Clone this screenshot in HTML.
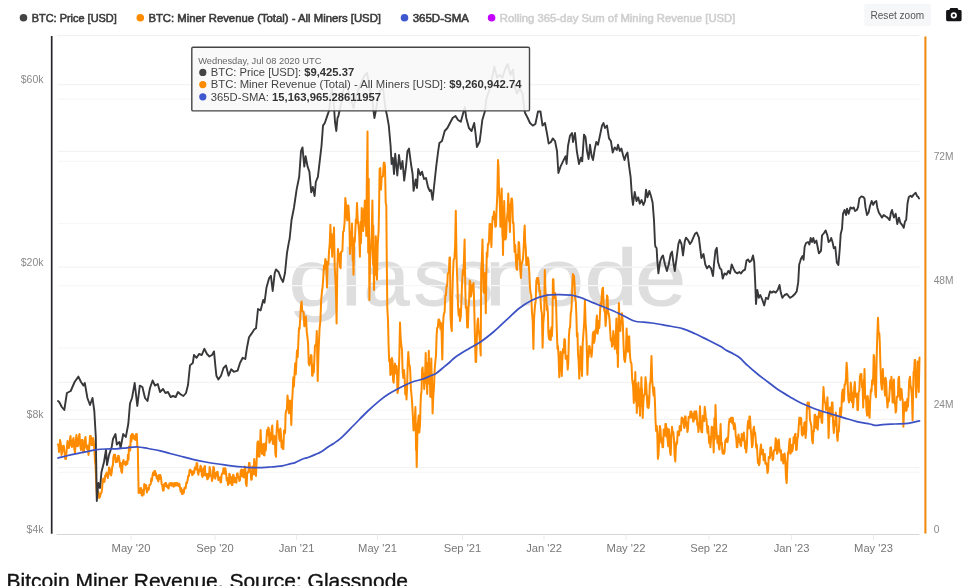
<!DOCTYPE html>
<html><head><meta charset="utf-8"><title>Bitcoin Miner Revenue</title>
<style>
html,body{margin:0;padding:0;background:#fff;}
body{width:970px;height:586px;overflow:hidden;position:relative;font-family:"Liberation Sans",sans-serif;}
</style></head><body>
<svg width="970" height="586" viewBox="0 0 970 586" style="position:absolute;left:0;top:0;will-change:transform">
<rect x="0" y="0" width="970" height="586" fill="#ffffff"/>
<defs><clipPath id="wmclip"><rect x="280" y="246.5" width="420" height="90"/></clipPath></defs>
<g id="wm" clip-path="url(#wmclip)" font-family="Liberation Sans, sans-serif" font-size="79.5" fill="#dedede" stroke="#dedede" stroke-width="1.0">
<text id="wm0" transform="translate(288.47 305.1) scale(1.240 1)" x="0" y="0">g</text>
<text id="wm1" transform="translate(340.97 305.1) scale(1.175 1)" x="0" y="0">l</text>
<text id="wm2" transform="translate(363.52 305.1) scale(1.039 1)" x="0" y="0">a</text>
<text id="wm3" transform="translate(413.85 305.1) scale(1.006 1)" x="0" y="0">s</text>
<text id="wm4" transform="translate(453.35 305.1) scale(1.006 1)" x="0" y="0">s</text>
<text id="wm5" transform="translate(485.15 305.1) scale(1.123 1)" x="0" y="0">n</text>
<text id="wm6" transform="translate(533.28 305.1) scale(1.142 1)" x="0" y="0">o</text>
<text id="wm7" transform="translate(584.57 305.1) scale(1.206 1)" x="0" y="0">d</text>
<text id="wm8" transform="translate(635.15 305.1) scale(1.150 1)" x="0" y="0">e</text>
</g>
<g stroke-width="1.2">
<line x1="57" x2="919.5" y1="35.6" y2="35.6" stroke="#f1f1f1"/>
<line x1="58" x2="919.5" y1="472.3" y2="472.3" stroke="#f7f7f7"/>
<line x1="58" x2="919.5" y1="410.1" y2="410.1" stroke="#f7f7f7"/>
<line x1="58" x2="919.5" y1="347.9" y2="347.9" stroke="#f7f7f7"/>
<line x1="58" x2="919.5" y1="285.7" y2="285.7" stroke="#f7f7f7"/>
<line x1="58" x2="919.5" y1="223.5" y2="223.5" stroke="#f7f7f7"/>
<line x1="58" x2="919.5" y1="161.3" y2="161.3" stroke="#f7f7f7"/>
<line x1="58" x2="919.5" y1="99.1" y2="99.1" stroke="#f7f7f7"/>
<line x1="58" x2="919.5" y1="467.6" y2="467.6" stroke="#f3f3f3"/>
<line x1="58" x2="919.5" y1="419.4" y2="419.4" stroke="#f3f3f3"/>
<line x1="58" x2="919.5" y1="382.3" y2="382.3" stroke="#f3f3f3"/>
<line x1="58" x2="919.5" y1="267.2" y2="267.2" stroke="#f3f3f3"/>
<line x1="58" x2="919.5" y1="151.4" y2="151.4" stroke="#f3f3f3"/>
<line x1="58" x2="919.5" y1="84.6" y2="84.6" stroke="#f3f3f3"/>
</g>
<line x1="56.5" x2="919.5" y1="534.5" y2="534.5" stroke="#d6d6d6" stroke-width="1"/>
<g stroke="#ebebeb" stroke-width="1">
<line x1="131" x2="131" y1="534.5" y2="540" />
<line x1="215" x2="215" y1="534.5" y2="540" />
<line x1="296.5" x2="296.5" y1="534.5" y2="540" />
<line x1="377.5" x2="377.5" y1="534.5" y2="540" />
<line x1="462.5" x2="462.5" y1="534.5" y2="540" />
<line x1="544" x2="544" y1="534.5" y2="540" />
<line x1="626" x2="626" y1="534.5" y2="540" />
<line x1="709" x2="709" y1="534.5" y2="540" />
<line x1="791.5" x2="791.5" y1="534.5" y2="540" />
<line x1="873.5" x2="873.5" y1="534.5" y2="540" />
</g>
<line x1="51.7" x2="51.7" y1="36.1" y2="533.7" stroke="#26262b" stroke-width="1.7"/>
<line x1="925.4" x2="925.4" y1="36.6" y2="533.5" stroke="#f08c12" stroke-width="2.1"/>
<path id="s-orange" d="M58.0 444.5 L58.5 445.6 L59.0 452.0 L59.5 447.8 L60.0 440.0 L60.8 443.8 L61.5 455.0 L62.2 452.1 L63.0 446.0 L63.8 445.7 L64.5 452.0 L65.2 458.9 L66.0 459.0 L66.8 448.3 L67.5 441.0 L68.2 447.7 L69.0 448.0 L69.8 440.0 L70.5 436.0 L71.2 445.2 L72.0 447.0 L72.8 440.2 L73.5 438.0 L74.2 447.9 L75.0 453.0 L75.8 440.1 L76.5 435.0 L77.2 446.3 L78.0 446.0 L78.8 437.4 L79.5 434.0 L80.2 445.0 L81.0 450.0 L81.8 440.1 L82.5 440.0 L83.2 452.4 L84.0 452.0 L84.8 439.9 L85.5 437.0 L86.2 446.8 L87.0 449.0 L87.8 445.5 L88.5 455.0 L89.2 447.7 L90.0 436.0 L90.8 436.0 L91.5 445.0 L92.2 445.1 L93.0 438.0 L93.8 442.1 L94.5 452.0 L95.0 461.2 L95.5 465.0 L96.3 485.0 L97.0 498.0 L97.8 491.3 L98.5 492.0 L99.2 498.0 L100.0 497.0 L100.7 493.6 L101.4 493.0 L102.1 488.8 L102.7 480.0 L103.3 478.5 L104.0 482.0 L104.6 481.3 L105.2 475.3 L105.9 476.0 L106.5 472.6 L107.2 474.1 L107.8 478.0 L108.4 474.5 L109.0 467.5 L109.7 468.0 L110.4 474.0 L111.1 475.4 L111.7 472.6 L112.3 466.3 L112.8 466.2 L113.4 457.0 L114.0 454.7 L114.6 458.2 L115.1 454.7 L115.7 462.2 L116.2 458.6 L116.8 462.0 L117.4 461.5 L118.0 456.0 L118.7 455.8 L119.4 460.0 L120.1 466.8 L120.7 463.0 L121.3 471.5 L122.0 472.6 L122.8 462.3 L123.5 460.0 L124.0 463.3 L124.5 464.0 L125.1 461.9 L125.7 465.3 L126.2 461.4 L126.8 462.0 L127.4 463.9 L127.9 454.8 L128.5 459.8 L129.0 446.4 L129.6 449.6 L130.2 450.5 L130.8 435.6 L131.4 441.4 L132.0 434.0 L132.7 434.0 L133.3 438.5 L134.0 435.8 L134.7 439.0 L135.4 440.0 L136.1 434.0 L136.8 434.0 L137.3 446.2 L137.8 447.0 L138.6 493.0 L139.2 489.8 L139.8 492.8 L140.4 488.2 L141.0 488.0 L141.7 495.2 L142.4 495.7 L143.1 489.8 L143.7 494.6 L144.3 484.0 L145.0 485.0 L145.6 488.5 L146.2 485.3 L146.9 492.4 L147.5 490.5 L148.1 488.2 L148.8 489.6 L149.4 485.1 L150.0 485.0 L150.7 484.1 L151.3 478.6 L151.9 481.0 L152.6 475.0 L153.2 472.4 L153.8 475.0 L154.4 471.0 L155.0 471.0 L155.6 475.6 L156.1 473.5 L156.7 478.3 L157.2 476.1 L157.8 480.0 L158.4 481.5 L159.1 474.9 L159.7 479.0 L160.3 475.0 L161.0 477.5 L161.7 484.4 L162.3 485.1 L163.0 490.5 L163.6 490.5 L164.2 484.1 L164.8 486.0 L165.4 483.0 L166.1 483.1 L166.7 486.8 L167.3 485.5 L168.0 488.0 L168.7 488.5 L169.3 483.5 L169.9 485.6 L170.6 483.0 L171.2 483.0 L171.8 485.8 L172.4 483.3 L173.0 485.4 L173.7 486.7 L174.3 483.0 L175.0 485.8 L175.7 483.0 L176.3 483.0 L176.8 485.5 L177.4 483.0 L178.0 484.0 L178.7 486.1 L179.3 483.8 L180.0 487.5 L180.7 491.5 L181.3 488.2 L181.9 494.0 L182.6 494.0 L183.2 490.3 L183.8 492.8 L184.4 487.8 L185.0 487.5 L185.7 488.2 L186.3 482.4 L187.0 483.0 L187.7 479.8 L188.3 475.7 L188.9 476.2 L189.6 470.2 L190.2 469.6 L190.8 472.3 L191.5 470.9 L192.2 475.1 L192.8 474.7 L193.5 471.2 L194.1 473.2 L194.8 467.6 L195.4 467.0 L196.0 469.5 L196.6 463.0 L197.2 463.3 L197.8 472.8 L198.4 474.7 L199.1 469.7 L199.8 471.1 L200.5 465.8 L201.2 466.8 L201.8 475.2 L202.5 477.0 L203.1 469.2 L203.7 475.3 L204.3 467.0 L204.9 466.1 L205.4 475.6 L206.0 474.7 L206.7 474.0 L207.3 479.3 L208.0 478.6 L208.6 473.4 L209.1 476.8 L209.6 467.0 L210.2 469.6 L210.8 475.4 L211.4 475.6 L212.0 481.0 L212.7 478.1 L213.3 467.0 L214.0 467.6 L214.6 476.7 L215.3 478.6 L215.9 473.0 L216.4 475.8 L217.0 472.0 L217.7 471.8 L218.3 480.0 L219.0 478.6 L219.8 477.2 L220.5 482.4 L221.1 482.3 L221.6 474.6 L222.2 473.4 L222.8 473.7 L223.4 468.5 L224.0 468.3 L224.7 473.7 L225.3 468.3 L226.0 472.0 L226.7 480.5 L227.3 478.0 L228.0 485.0 L228.7 483.8 L229.3 473.8 L230.0 474.7 L230.6 483.0 L231.1 477.1 L231.7 485.0 L232.4 485.0 L233.1 474.7 L233.8 476.0 L234.5 482.2 L235.1 478.0 L235.8 482.4 L236.4 482.7 L237.0 473.7 L237.6 473.4 L238.2 477.5 L238.8 476.9 L239.4 481.0 L240.1 479.7 L240.7 471.0 L241.4 469.6 L242.1 476.1 L242.8 469.9 L243.5 477.3 L244.1 477.3 L244.7 466.6 L245.3 468.3 L245.9 483.4 L246.6 486.0 L247.2 472.9 L247.8 472.0 L248.4 472.5 L249.0 463.1 L249.6 463.0 L250.1 471.5 L250.7 471.4 L251.2 479.8 L251.8 479.4 L252.4 466.5 L253.0 468.3 L253.6 474.2 L254.2 458.9 L254.8 464.5 L255.4 474.3 L256.0 476.0 L256.8 456.8 L257.4 442.7 L258.0 441.4 L258.7 456.4 L259.4 456.8 L259.9 449.3 L260.6 430.0 L261.3 447.3 L262.0 454.0 L262.6 446.7 L263.2 444.0 L263.9 455.1 L264.5 455.5 L265.2 443.4 L265.8 450.5 L266.5 439.0 L267.1 429.9 L267.7 435.3 L268.3 427.4 L268.9 429.1 L269.4 442.7 L270.0 441.4 L270.6 433.0 L271.1 439.5 L271.7 428.6 L272.3 425.4 L272.8 443.8 L273.4 444.0 L274.0 435.7 L274.7 436.3 L275.4 454.0 L276.0 456.8 L276.6 432.2 L277.3 421.0 L278.0 430.5 L278.6 429.7 L279.3 439.0 L279.9 441.1 L280.4 428.5 L281.0 435.0 L281.6 447.4 L282.3 440.7 L282.9 449.0 L283.4 449.0 L284.0 430.6 L284.5 433.8 L285.1 432.5 L285.6 413.8 L286.2 410.7 L286.9 408.8 L287.5 395.4 L288.1 401.1 L288.8 413.3 L289.4 409.5 L290.0 400.5 L290.6 407.4 L291.3 425.0 L292.0 402.0 L292.6 393.0 L293.3 377.5 L293.9 386.5 L294.6 373.0 L295.2 363.3 L295.8 374.2 L296.4 362.0 L297.0 350.6 L297.7 357.0 L298.3 343.0 L299.0 328.1 L299.6 328.7 L300.3 316.8 L301.0 305.1 L301.6 301.4 L302.2 310.8 L302.9 311.7 L303.6 312.0 L304.3 326.3 L305.0 324.5 L305.5 316.6 L306.0 316.8 L306.8 332.1 L307.5 337.3 L308.1 343.9 L308.7 362.7 L309.3 365.4 L309.9 357.7 L310.4 363.2 L311.0 355.0 L311.5 355.5 L312.1 375.7 L312.6 375.7 L313.2 364.5 L313.8 372.4 L314.4 358.0 L315.0 345.6 L315.7 345.0 L316.2 344.1 L316.8 331.0 L317.7 381.0 L318.4 355.8 L318.8 346.0 L319.6 328.0 L320.3 322.0 L321.2 300.0 L322.0 291.0 L322.6 286.8 L323.3 277.0 L324.0 265.5 L324.6 268.9 L325.3 259.0 L325.8 260.7 L326.3 267.0 L327.0 287.5 L327.7 261.7 L328.4 264.4 L329.0 251.7 L329.7 244.2 L330.4 224.8 L331.1 247.8 L331.5 233.8 L332.2 256.8 L332.9 235.6 L333.3 248.6 L334.0 227.4 L334.7 267.0 L335.6 282.4 L336.1 299.1 L336.6 323.4 L337.3 269.8 L338.0 249.0 L338.7 260.7 L339.3 253.7 L340.0 267.0 L340.6 268.1 L341.1 252.0 L341.7 251.7 L342.4 250.8 L343.1 231.7 L343.8 231.0 L344.6 222.1 L345.3 198.0 L346.1 204.8 L346.8 218.4 L347.3 220.4 L347.9 205.6 L348.4 205.6 L349.3 219.2 L350.0 254.0 L350.7 232.0 L351.3 245.5 L352.0 223.5 L352.7 260.4 L352.8 237.8 L353.5 274.7 L354.2 243.2 L354.8 241.6 L355.3 231.0 L355.8 219.5 L356.3 223.2 L357.0 203.0 L357.7 219.6 L358.5 226.0 L359.2 234.6 L359.9 256.8 L360.6 221.7 L361.0 243.1 L361.7 208.0 L362.4 224.6 L362.5 214.4 L363.2 231.0 L363.9 209.0 L364.1 222.5 L364.8 200.5 L365.5 226.1 L365.6 210.4 L366.3 236.0 L367.0 160.8 L366.8 206.7 L367.5 131.5 L368.2 252.8 L368.7 178.7 L369.4 300.0 L370.1 261.6 L371.0 246.6 L371.7 233.7 L372.4 200.5 L373.1 264.9 L373.3 225.6 L374.0 290.0 L374.7 251.3 L375.1 275.0 L375.8 236.3 L376.5 267.6 L376.3 248.5 L377.0 279.8 L377.7 244.7 L378.6 231.0 L379.1 205.9 L379.6 169.0 L380.3 168.0 L381.0 189.6 L381.6 178.0 L382.3 176.8 L383.0 176.2 L383.7 162.7 L384.4 162.7 L385.0 166.6 L385.7 202.4 L386.3 205.6 L386.8 262.3 L387.3 308.0 L388.0 320.2 L388.6 345.6 L389.2 361.3 L389.8 359.3 L390.4 375.0 L391.1 373.6 L391.9 358.0 L392.5 360.7 L393.1 380.5 L393.7 382.7 L394.4 367.4 L395.0 363.5 L395.8 373.4 L396.5 366.0 L397.0 372.4 L397.5 393.0 L398.1 390.2 L398.8 371.0 L399.3 357.4 L400.0 322.6 L400.7 339.2 L401.4 345.6 L402.0 349.7 L402.6 371.0 L403.3 378.0 L404.0 370.1 L404.7 379.0 L405.3 394.4 L405.9 384.6 L406.5 399.4 L407.1 387.2 L407.7 364.3 L408.3 352.0 L409.1 364.5 L409.8 366.0 L410.3 372.2 L410.9 388.9 L411.4 394.0 L412.1 402.3 L412.9 417.0 L413.5 430.4 L414.2 430.0 L414.7 423.6 L415.4 407.0 L416.1 450.2 L416.0 423.8 L416.7 467.0 L417.4 434.9 L418.0 422.4 L418.7 415.6 L419.3 432.5 L420.0 425.0 L420.5 405.8 L421.0 394.0 L421.5 392.3 L422.1 369.4 L422.6 367.4 L423.1 378.2 L423.7 373.5 L424.2 389.0 L425.0 378.9 L425.7 353.0 L426.4 382.5 L426.5 364.5 L427.2 394.0 L427.9 362.8 L428.1 381.9 L428.8 350.7 L429.5 383.9 L429.6 363.6 L430.3 396.8 L430.8 386.4 L431.3 358.4 L432.0 398.0 L431.9 373.8 L432.6 413.4 L433.3 395.8 L433.9 389.0 L434.6 370.9 L435.4 361.0 L436.0 355.3 L436.6 335.6 L437.2 327.7 L437.9 327.2 L438.5 319.5 L439.1 319.5 L439.8 322.0 L440.4 328.8 L441.0 323.0 L441.6 333.2 L442.3 359.4 L443.0 326.2 L443.5 316.8 L444.0 313.3 L444.6 312.5 L445.3 295.7 L445.9 295.4 L446.6 285.7 L447.2 286.0 L447.8 273.5 L448.4 273.0 L448.9 272.3 L449.5 257.5 L450.0 257.5 L450.5 315.8 L451.1 326.1 L451.8 331.0 L452.3 298.3 L452.8 278.0 L453.6 260.0 L454.4 258.6 L455.1 246.2 L455.8 210.8 L456.5 255.6 L457.0 273.0 L457.5 286.5 L458.0 305.6 L458.7 315.5 L459.3 309.2 L460.0 321.0 L460.8 316.4 L461.5 300.0 L462.1 281.9 L462.8 270.0 L463.4 274.7 L463.9 261.5 L464.6 239.6 L465.3 288.8 L465.8 308.0 L466.5 306.8 L467.2 327.4 L467.9 327.4 L468.5 308.4 L469.1 300.6 L469.7 280.6 L470.3 281.8 L470.9 296.5 L471.5 293.0 L472.2 285.3 L472.8 289.8 L473.5 283.0 L474.1 301.6 L474.8 331.0 L475.6 362.0 L476.1 362.0 L476.6 346.0 L477.3 324.3 L478.0 318.4 L478.6 330.5 L479.2 334.0 L479.9 341.1 L480.7 355.5 L481.2 270.0 L481.8 261.5 L482.5 239.6 L483.2 277.9 L483.8 292.8 L484.4 291.4 L485.0 273.0 L485.8 313.3 L486.3 276.6 L486.8 252.4 L487.3 256.9 L487.9 244.0 L488.4 244.7 L489.0 240.9 L489.6 224.0 L490.2 224.0 L490.7 230.4 L491.4 247.0 L492.1 225.1 L492.7 216.6 L493.4 219.1 L494.0 211.4 L494.6 215.9 L495.3 226.8 L496.0 226.0 L496.6 208.9 L497.3 195.2 L498.0 160.0 L498.5 167.5 L499.0 188.4 L499.7 199.2 L500.4 226.8 L501.1 199.2 L501.0 216.0 L501.7 188.4 L502.4 236.4 L502.3 207.0 L503.0 255.0 L503.7 216.1 L503.5 239.9 L504.2 201.0 L504.9 228.8 L505.5 239.6 L506.1 237.1 L506.8 219.0 L507.6 211.9 L508.3 193.5 L509.0 221.2 L509.2 204.3 L509.9 232.0 L510.6 208.0 L511.4 198.6 L511.9 198.6 L512.4 203.8 L512.9 223.0 L513.5 222.8 L514.0 237.0 L514.6 252.0 L515.2 245.1 L515.8 257.5 L516.4 268.3 L517.0 270.0 L517.5 254.8 L518.1 259.5 L518.6 242.0 L519.1 242.8 L519.6 252.4 L520.2 268.7 L520.9 278.0 L521.5 264.6 L522.2 262.6 L523.0 258.8 L523.7 247.0 L524.2 233.0 L524.7 225.5 L525.2 242.4 L525.8 248.8 L526.3 265.0 L527.0 265.0 L527.8 257.5 L528.5 260.5 L529.3 272.9 L530.0 287.8 L530.6 293.4 L531.2 294.6 L531.9 310.7 L532.7 321.4 L533.4 349.0 L534.1 317.8 L535.0 305.6 L535.7 300.9 L536.3 281.3 L537.0 278.0 L537.6 283.5 L538.2 278.0 L538.8 283.0 L539.4 291.6 L540.0 290.4 L540.6 300.5 L541.2 309.9 L541.9 313.7 L542.6 347.8 L543.3 323.0 L544.2 313.3 L544.8 270.0 L545.7 300.0 L546.2 294.5 L546.8 309.9 L547.3 305.6 L547.9 312.8 L548.4 333.5 L549.0 338.9 L549.6 330.7 L550.2 340.0 L550.8 340.0 L551.3 327.5 L551.9 336.1 L552.4 326.0 L552.9 279.3 L553.4 279.3 L554.0 298.4 L554.5 296.0 L555.2 293.1 L556.0 300.5 L556.8 330.6 L557.5 349.0 L558.0 345.9 L558.6 356.9 L559.3 377.3 L560.0 358.9 L559.9 370.1 L560.6 351.7 L561.3 369.2 L561.1 358.5 L561.8 376.0 L562.5 356.6 L563.0 349.0 L563.7 352.8 L564.4 338.9 L565.0 340.0 L565.6 358.8 L566.2 356.8 L567.0 356.0 L567.7 369.6 L568.3 362.6 L568.9 337.0 L569.5 328.6 L570.1 327.5 L570.7 313.6 L571.3 310.7 L571.8 302.0 L572.4 283.1 L572.9 274.0 L573.4 284.4 L574.0 275.7 L574.5 283.0 L575.1 297.7 L575.8 301.6 L576.4 315.8 L576.9 336.5 L577.5 333.1 L578.0 354.0 L578.6 360.9 L579.3 378.6 L580.0 355.6 L579.8 369.6 L580.5 346.6 L581.2 367.8 L581.3 354.8 L582.0 376.0 L582.7 343.6 L583.6 331.0 L584.2 322.5 L584.9 300.5 L585.6 322.5 L586.2 331.0 L586.7 343.2 L587.4 374.7 L588.1 354.5 L588.6 357.0 L589.2 345.9 L589.7 346.6 L590.3 353.2 L590.9 350.0 L591.5 356.8 L592.1 350.9 L592.8 333.8 L593.5 331.8 L594.1 342.8 L594.8 339.0 L595.3 330.3 L595.9 332.5 L596.4 321.0 L596.9 315.5 L597.5 333.8 L598.0 331.0 L598.7 320.9 L599.3 328.0 L600.0 313.3 L600.6 302.7 L601.2 306.3 L601.8 295.4 L602.4 288.8 L603.0 287.7 L603.6 304.3 L604.3 310.7 L605.0 312.7 L605.6 326.0 L606.3 316.6 L607.0 295.4 L607.6 297.4 L608.1 313.2 L608.7 313.3 L609.5 319.4 L610.2 331.0 L610.8 340.6 L611.4 338.1 L612.0 346.6 L612.6 344.0 L613.3 331.0 L614.0 337.0 L614.8 349.0 L615.7 340.4 L616.4 318.4 L617.1 353.4 L617.2 332.0 L617.9 367.0 L618.4 337.8 L618.9 303.0 L619.6 323.2 L620.4 331.0 L620.9 320.5 L621.5 323.4 L622.0 313.3 L622.8 322.3 L623.5 344.0 L624.2 359.0 L625.0 362.0 L625.9 352.6 L626.6 328.6 L627.3 345.2 L628.0 351.7 L628.6 336.6 L629.2 336.3 L630.0 356.0 L630.7 362.0 L631.5 363.7 L632.2 379.8 L633.1 386.3 L633.8 402.9 L634.5 380.7 L634.6 394.2 L635.3 372.0 L636.0 401.5 L636.1 383.5 L636.8 413.0 L637.5 391.0 L637.7 404.4 L638.4 382.4 L639.1 406.4 L639.3 391.7 L640.0 415.7 L640.7 388.1 L640.7 404.9 L641.4 377.3 L642.1 406.6 L642.0 388.7 L642.7 418.0 L643.4 401.4 L644.0 395.0 L644.8 394.4 L645.5 377.3 L646.2 383.5 L647.0 400.0 L647.5 407.4 L648.1 396.4 L648.6 408.0 L649.2 403.1 L649.8 383.7 L650.4 382.4 L650.8 375.0 L651.5 356.0 L652.2 380.5 L653.0 390.0 L653.6 395.5 L654.2 387.5 L654.9 400.8 L655.5 420.0 L656.1 431.0 L656.8 426.0 L657.3 434.1 L657.9 458.8 L658.5 454.6 L659.2 437.0 L659.9 425.9 L660.5 429.4 L661.2 442.8 L661.8 437.9 L662.5 447.3 L663.1 447.3 L663.7 429.5 L664.3 429.4 L664.9 435.6 L665.4 424.0 L666.0 424.0 L666.5 436.7 L667.1 428.3 L667.6 439.6 L668.2 446.2 L668.8 429.2 L669.4 434.5 L670.0 451.8 L670.7 455.0 L671.4 436.9 L672.0 426.8 L672.6 432.2 L673.3 432.0 L674.0 439.3 L674.6 455.1 L675.3 461.4 L675.8 449.3 L676.4 442.0 L677.1 443.6 L677.7 431.5 L678.4 432.0 L679.1 435.3 L679.7 426.1 L680.4 429.4 L681.0 430.5 L681.6 417.6 L682.2 417.8 L682.8 422.5 L683.4 419.0 L684.0 426.8 L684.5 428.0 L685.1 416.3 L685.6 416.6 L686.2 425.6 L686.8 422.6 L687.4 432.0 L688.0 428.8 L688.6 417.1 L689.2 416.6 L689.9 417.6 L690.5 411.4 L691.2 411.4 L691.9 417.6 L692.5 413.7 L693.2 421.7 L693.8 420.8 L694.4 411.4 L695.0 411.4 L695.6 418.7 L696.2 411.2 L696.8 416.6 L697.3 424.9 L697.9 423.3 L698.4 432.0 L699.3 424.8 L700.0 406.3 L700.7 424.8 L701.4 432.0 L702.1 432.3 L702.8 415.8 L703.5 416.6 L704.1 421.1 L704.7 406.8 L705.3 411.4 L705.9 419.0 L706.4 418.8 L707.0 426.8 L707.5 432.7 L708.1 426.2 L708.6 434.5 L709.2 443.1 L709.8 437.1 L710.4 447.3 L711.0 439.7 L711.7 426.8 L712.4 427.3 L713.0 434.0 L713.7 452.4 L714.4 418.3 L714.8 439.1 L715.5 405.0 L716.2 426.2 L716.8 434.5 L717.5 443.2 L718.2 436.1 L718.9 447.3 L719.4 449.6 L719.9 440.8 L720.6 424.0 L721.3 444.4 L721.9 443.0 L722.4 452.4 L722.9 453.7 L723.5 450.4 L724.0 453.7 L724.6 451.7 L725.2 441.6 L725.8 439.6 L726.4 441.7 L727.0 438.0 L727.6 442.0 L728.3 435.8 L728.9 423.3 L729.6 419.0 L730.3 421.9 L731.0 417.8 L731.7 417.8 L732.3 423.4 L732.8 417.8 L733.4 424.0 L734.0 429.1 L734.6 423.3 L735.2 426.8 L735.7 435.7 L736.3 438.6 L736.8 447.3 L737.4 447.1 L738.0 436.9 L738.6 434.5 L739.2 441.9 L739.8 439.1 L740.4 444.7 L741.1 445.9 L741.7 434.1 L742.4 437.0 L743.1 440.6 L743.8 432.6 L744.5 439.6 L745.1 448.5 L745.6 441.7 L746.2 452.4 L746.9 445.2 L747.5 426.8 L748.1 421.0 L748.8 428.2 L749.4 416.6 L750.0 416.6 L750.7 429.1 L751.3 434.9 L752.0 447.3 L752.7 445.0 L753.3 429.3 L754.0 426.8 L754.6 434.7 L755.1 432.5 L755.7 439.6 L756.2 447.7 L756.8 444.5 L757.3 452.4 L757.9 462.9 L758.4 458.8 L759.0 465.2 L759.6 463.3 L760.3 449.8 L761.0 444.4 L761.7 454.2 L762.4 452.4 L763.0 449.8 L763.6 460.3 L764.2 457.5 L764.8 453.9 L765.4 463.7 L766.0 462.6 L766.8 464.6 L767.5 472.9 L768.1 471.0 L768.7 457.0 L769.3 457.5 L769.9 458.1 L770.4 447.6 L771.0 447.3 L771.5 455.3 L772.1 452.7 L772.6 460.0 L773.2 458.9 L773.8 450.6 L774.4 449.8 L775.0 450.2 L775.7 438.3 L776.4 439.8 L777.0 453.7 L777.7 452.4 L778.2 443.0 L778.8 439.6 L779.5 449.1 L780.3 452.4 L780.9 450.3 L781.4 460.5 L782.0 460.0 L782.6 454.4 L783.3 463.5 L783.9 455.0 L784.6 453.5 L785.4 462.6 L786.0 477.8 L786.7 483.0 L787.4 463.5 L788.0 452.4 L788.6 452.6 L789.3 442.0 L789.9 438.7 L790.4 453.8 L791.0 452.4 L791.7 445.0 L792.3 451.4 L793.0 447.3 L793.6 437.3 L794.3 443.1 L794.9 434.5 L795.5 433.8 L796.1 450.0 L796.7 449.8 L797.4 438.6 L798.0 436.8 L798.7 426.8 L799.3 417.8 L799.9 424.0 L800.5 417.8 L801.2 418.5 L801.8 434.2 L802.5 435.7 L803.1 427.2 L803.7 434.0 L804.3 422.9 L805.0 422.1 L805.6 438.0 L806.3 430.2 L806.9 407.8 L807.6 402.4 L808.2 408.5 L808.8 402.4 L809.4 407.5 L810.0 420.0 L810.7 423.0 L811.4 426.3 L812.1 440.0 L812.8 443.4 L813.4 430.7 L814.0 431.1 L814.6 415.0 L815.2 414.7 L815.8 426.9 L816.4 428.0 L817.1 416.7 L817.7 429.6 L818.4 417.8 L819.1 411.7 L819.7 417.2 L820.4 412.6 L821.0 413.0 L821.6 422.1 L822.2 423.0 L822.9 401.6 L823.5 387.0 L824.1 397.0 L824.8 402.4 L825.4 402.9 L826.0 410.0 L826.7 407.0 L827.4 397.3 L827.9 408.7 L828.6 438.0 L829.3 417.8 L830.0 407.6 L830.7 410.0 L831.3 415.8 L831.9 402.4 L832.5 402.4 L833.1 423.0 L833.8 433.0 L834.5 420.9 L835.1 425.4 L835.8 412.6 L836.4 416.9 L837.0 436.2 L837.6 440.8 L838.2 430.9 L838.8 431.6 L839.4 420.3 L840.1 408.1 L840.7 416.9 L841.4 410.0 L842.0 393.9 L842.7 389.6 L843.4 401.5 L844.0 400.0 L844.6 384.5 L845.3 384.5 L846.0 377.4 L846.6 362.7 L847.2 370.4 L847.8 387.0 L848.4 398.7 L849.0 402.4 L849.5 393.6 L850.1 399.9 L850.7 382.6 L851.2 387.0 L851.8 401.9 L852.4 392.5 L853.0 407.5 L853.6 401.7 L854.2 387.8 L854.8 382.0 L855.5 396.4 L856.3 397.3 L856.9 393.7 L857.4 410.0 L858.0 410.0 L858.6 392.5 L859.3 390.6 L859.9 376.8 L860.6 374.0 L861.4 374.0 L862.0 387.2 L862.5 383.4 L863.2 407.5 L863.9 379.8 L863.8 396.7 L864.5 369.0 L865.2 398.5 L865.9 396.4 L866.5 410.0 L867.1 415.6 L867.7 396.1 L868.3 402.4 L869.0 414.4 L869.6 417.8 L870.2 400.3 L870.9 389.6 L871.5 391.6 L872.1 380.2 L872.7 384.5 L873.2 376.7 L873.7 355.0 L874.2 357.3 L874.7 376.8 L875.4 394.3 L876.0 397.3 L876.6 359.8 L877.3 335.8 L878.0 317.8 L878.6 332.9 L879.3 333.0 L879.8 342.9 L880.4 364.0 L881.1 383.0 L881.9 389.6 L882.4 376.4 L882.9 369.0 L883.4 383.5 L884.0 378.6 L884.5 389.6 L885.1 395.6 L885.6 377.8 L886.2 382.0 L886.9 399.4 L887.5 407.5 L888.2 398.8 L888.9 401.5 L889.6 392.0 L890.2 380.6 L890.8 388.6 L891.4 376.8 L891.9 384.0 L892.6 402.4 L893.3 385.8 L893.2 396.0 L893.9 379.4 L894.6 403.3 L895.2 404.5 L895.7 412.6 L896.2 410.4 L896.8 396.8 L897.3 397.3 L897.9 396.8 L898.4 378.5 L899.0 376.8 L899.6 392.5 L900.3 400.0 L901.0 388.7 L901.6 389.6 L902.1 397.4 L902.7 400.0 L903.4 426.7 L904.1 409.2 L904.9 402.4 L905.5 402.0 L906.1 411.0 L906.7 410.0 L907.3 399.0 L907.9 406.8 L908.5 397.3 L909.2 380.6 L910.0 376.8 L910.5 386.0 L911.0 387.0 L911.9 396.3 L912.6 420.3 L913.1 391.8 L913.6 371.7 L914.1 372.1 L914.7 360.0 L915.2 360.0 L915.7 385.8 L916.2 397.3 L916.9 371.5 L917.0 387.2 L917.7 361.4 L918.4 383.4 L918.1 370.0 L918.8 392.0 L919.5 357.6" fill="none" stroke="#ff8c00" stroke-width="2" stroke-linejoin="round" stroke-linecap="round"/>
<path id="s-black" d="M58.0 401.0 L59.2 402.0 L61.8 407.0 L64.3 410.0 L66.9 393.0 L70.7 391.0 L74.6 382.0 L78.4 376.6 L81.0 382.0 L83.5 385.6 L84.8 383.0 L87.4 398.0 L90.0 405.0 L92.5 398.0 L94.3 411.0 L95.8 437.0 L96.8 501.0 L98.4 483.0 L100.0 488.0 L101.4 472.6 L104.0 462.0 L106.0 449.6 L107.0 465.0 L109.0 455.0 L111.7 447.0 L113.0 439.0 L115.5 434.0 L116.8 444.5 L119.4 442.0 L120.6 448.0 L123.2 434.0 L125.8 437.0 L128.3 424.0 L130.0 403.5 L132.0 398.0 L134.7 383.0 L137.3 406.0 L139.8 385.6 L142.4 387.0 L145.0 398.0 L147.5 401.0 L150.0 388.0 L152.6 380.5 L155.0 385.6 L157.8 384.0 L160.0 392.0 L163.0 389.0 L165.4 393.0 L168.0 392.0 L170.6 397.0 L173.0 396.0 L175.7 397.0 L178.0 392.0 L180.8 394.5 L183.4 396.0 L186.0 393.0 L188.0 385.0 L190.0 365.4 L192.8 363.0 L194.0 355.0 L196.6 357.8 L199.0 354.0 L201.8 355.0 L204.3 348.8 L207.0 354.0 L209.4 356.5 L212.0 355.0 L214.0 351.4 L215.3 365.4 L216.4 375.7 L218.4 379.5 L221.0 375.7 L223.5 368.0 L226.0 365.4 L228.6 375.7 L231.2 369.3 L233.8 371.8 L237.6 370.6 L240.0 363.0 L242.7 357.8 L245.3 359.0 L247.0 347.5 L249.0 337.3 L251.7 333.4 L254.2 329.6 L256.0 328.3 L258.0 309.0 L260.6 310.4 L263.2 300.0 L264.5 302.7 L266.5 287.4 L269.0 278.4 L270.9 275.8 L272.7 291.0 L274.7 273.3 L276.0 269.4 L278.6 272.0 L281.0 278.4 L283.0 282.0 L285.0 273.0 L287.0 252.8 L288.8 242.6 L289.6 239.0 L291.5 220.3 L294.0 207.5 L296.6 189.6 L299.2 176.8 L301.0 151.2 L302.5 147.4 L304.3 166.6 L305.6 156.3 L307.6 166.6 L309.4 171.7 L311.2 192.2 L312.8 187.0 L314.6 196.0 L315.8 182.0 L317.9 176.8 L319.7 161.4 L321.5 146.0 L323.0 125.6 L324.8 123.0 L327.4 115.4 L329.2 110.2 L330.8 93.6 L332.0 89.0 L333.5 100.0 L335.0 122.0 L336.3 131.0 L337.5 118.0 L338.4 116.0 L341.0 104.0 L343.0 91.0 L345.6 84.0 L348.0 90.0 L350.5 98.0 L353.6 108.0 L356.0 97.0 L359.0 88.0 L361.5 82.0 L364.3 76.0 L367.0 73.0 L369.7 87.0 L372.4 101.6 L374.4 118.0 L376.0 110.0 L377.7 99.0 L380.4 90.0 L383.0 88.0 L385.0 105.0 L386.0 111.0 L387.0 115.4 L388.8 125.6 L390.6 146.0 L391.6 164.0 L392.8 158.0 L394.0 174.0 L395.2 153.8 L397.3 175.5 L399.0 155.0 L400.8 169.0 L402.5 161.0 L404.2 180.6 L406.0 166.6 L407.5 151.2 L409.0 148.6 L411.0 164.0 L412.6 174.0 L413.6 190.9 L415.7 179.4 L417.0 188.0 L418.2 169.0 L420.3 175.0 L422.0 171.7 L424.0 179.0 L426.0 178.0 L428.0 187.0 L429.8 191.0 L431.0 190.0 L432.6 199.8 L434.0 187.0 L436.2 166.6 L438.2 151.0 L439.4 143.0 L442.0 141.0 L444.7 131.0 L447.4 128.0 L450.0 123.0 L452.8 117.7 L455.5 116.0 L458.0 120.0 L460.8 121.7 L463.5 112.0 L464.8 107.0 L466.2 117.7 L468.9 128.0 L471.6 131.0 L474.2 123.0 L475.6 133.8 L476.9 147.0 L479.6 141.8 L481.0 131.0 L482.3 120.0 L485.0 111.0 L486.3 99.0 L489.0 91.0 L491.6 80.0 L494.3 66.8 L497.0 77.5 L499.7 75.0 L502.4 77.5 L505.0 69.5 L507.7 64.0 L510.4 74.8 L513.0 69.5 L514.4 85.6 L517.0 93.6 L519.8 88.0 L522.5 93.6 L524.6 111.0 L525.0 112.8 L527.7 118.0 L530.0 123.0 L532.8 125.6 L535.4 124.0 L538.0 111.5 L540.5 111.5 L542.5 125.6 L545.0 123.0 L546.9 133.0 L548.7 143.5 L551.0 142.0 L552.8 138.4 L555.0 141.0 L557.0 151.0 L558.4 173.0 L560.5 166.6 L563.0 161.4 L565.6 156.3 L566.6 164.0 L568.0 146.0 L570.0 135.8 L572.0 133.0 L573.0 142.0 L575.0 133.0 L576.8 151.0 L579.0 164.0 L581.0 157.6 L582.2 161.4 L584.0 134.6 L585.5 137.0 L587.0 151.0 L588.6 159.0 L590.0 144.8 L591.7 156.3 L593.0 160.0 L594.8 148.6 L596.3 142.0 L598.0 144.8 L599.9 135.8 L602.0 125.6 L603.5 123.0 L605.0 128.0 L607.0 125.6 L609.0 138.4 L610.9 141.0 L612.7 152.5 L614.7 147.4 L616.8 150.0 L618.0 144.8 L619.8 151.0 L621.4 148.6 L623.0 155.0 L624.5 160.0 L626.0 155.0 L627.5 152.5 L628.8 164.0 L630.6 176.8 L632.0 197.3 L633.0 205.0 L634.7 192.0 L636.5 201.0 L638.2 197.3 L639.8 203.7 L641.6 200.0 L643.4 205.0 L645.0 201.0 L646.0 189.6 L647.5 197.3 L649.3 190.9 L651.0 196.0 L652.6 202.4 L654.0 220.3 L655.0 243.4 L655.4 246.6 L656.6 248.0 L657.4 262.0 L658.4 273.4 L660.0 262.0 L661.8 256.8 L663.0 255.5 L665.0 264.5 L666.9 271.0 L668.7 264.5 L670.7 254.0 L672.0 251.7 L673.3 262.0 L674.8 271.0 L676.4 259.4 L678.4 244.0 L679.7 240.0 L681.5 244.0 L683.0 255.5 L684.8 241.4 L686.0 237.6 L688.0 240.0 L690.0 244.0 L691.7 241.4 L693.3 237.6 L695.0 233.8 L696.8 232.5 L698.9 237.6 L700.0 246.6 L701.4 258.0 L703.5 254.0 L705.3 264.5 L707.0 268.3 L709.0 265.8 L711.0 268.3 L713.0 276.0 L714.2 262.0 L715.5 250.4 L716.8 247.8 L718.0 262.0 L719.9 268.3 L721.4 269.6 L722.7 278.6 L724.5 273.4 L726.5 274.7 L728.3 270.9 L730.0 273.4 L731.7 264.5 L733.4 268.3 L735.2 272.0 L737.3 273.4 L739.3 272.0 L741.0 273.4 L742.9 270.9 L745.0 269.6 L746.5 260.6 L748.0 259.4 L749.6 262.0 L751.4 260.6 L753.0 255.5 L754.2 262.0 L755.2 282.4 L756.0 304.0 L757.3 290.0 L758.8 297.8 L760.3 295.0 L762.4 300.0 L764.2 305.4 L766.0 297.8 L768.0 299.0 L770.0 291.4 L771.8 292.6 L773.6 291.4 L775.7 292.6 L777.7 290.0 L779.5 285.0 L780.8 292.6 L782.3 297.8 L784.6 295.0 L787.0 294.0 L789.8 297.8 L792.3 296.5 L794.9 294.0 L796.7 291.4 L798.2 282.4 L799.2 264.5 L800.0 262.0 L801.0 258.6 L802.5 256.0 L803.6 259.8 L804.6 247.0 L806.0 243.0 L808.0 242.0 L809.4 244.5 L810.7 238.0 L812.0 242.0 L813.3 238.0 L814.6 243.0 L816.4 240.6 L817.9 248.3 L818.9 253.4 L821.0 250.9 L822.0 235.5 L824.0 233.0 L825.6 230.4 L827.4 235.5 L828.6 242.0 L830.2 240.6 L831.2 238.0 L832.5 242.0 L833.8 248.3 L835.3 247.0 L836.8 262.4 L838.4 265.0 L839.7 249.6 L840.7 234.0 L842.0 229.0 L843.0 213.8 L844.5 210.0 L846.0 215.0 L847.0 208.6 L848.6 213.8 L850.4 207.4 L852.2 208.6 L853.7 207.4 L855.0 211.0 L856.8 210.0 L858.0 207.4 L859.4 198.4 L861.4 196.4 L863.2 197.0 L864.5 198.4 L865.5 207.4 L867.0 215.0 L868.6 212.5 L870.0 206.0 L871.7 201.0 L873.2 204.8 L874.7 202.0 L876.3 201.0 L877.3 207.4 L878.8 212.5 L880.4 215.0 L881.9 217.6 L883.7 215.0 L885.5 216.3 L887.5 217.6 L889.6 220.0 L891.0 212.5 L892.0 210.0 L893.9 217.6 L895.7 213.8 L897.3 224.0 L899.0 217.6 L900.3 222.7 L902.4 225.3 L903.7 227.8 L905.0 221.4 L906.2 220.0 L907.5 203.5 L908.8 197.0 L910.6 195.8 L912.0 197.0 L913.6 194.6 L915.7 192.8 L917.0 195.8 L918.2 197.0 L919.0 198.4" fill="none" stroke="#38383b" stroke-width="1.9" stroke-linejoin="round" stroke-linecap="round"/>
<path id="s-blue" d="M58.0 458.0 C59.7 457.6 64.6 456.3 68.0 455.5 C71.4 454.7 75.1 454.1 78.4 453.4 C81.7 452.7 85.0 451.9 88.0 451.3 C91.0 450.7 93.3 450.0 96.3 449.6 C99.3 449.2 102.6 449.1 106.0 449.0 C109.4 448.9 113.3 449.0 116.8 448.8 C120.3 448.6 123.6 448.1 127.0 447.8 C130.4 447.5 133.8 446.9 137.3 447.0 C140.8 447.1 144.2 447.9 148.0 448.5 C151.8 449.1 156.6 450.1 160.3 450.9 C164.0 451.7 166.7 452.6 170.0 453.5 C173.3 454.4 176.2 455.0 180.0 456.0 C183.8 457.0 188.5 458.4 192.8 459.4 C197.1 460.4 201.3 461.2 205.6 462.0 C209.9 462.8 214.1 463.4 218.4 464.0 C222.7 464.6 226.9 465.3 231.2 465.8 C235.5 466.3 239.7 466.7 244.0 467.0 C248.3 467.3 252.5 467.6 256.8 467.6 C261.1 467.6 265.3 467.3 269.6 467.0 C273.9 466.7 279.0 466.3 282.4 465.8 C285.8 465.3 287.9 464.3 290.0 463.8 C292.1 463.3 293.1 463.4 295.2 462.6 C297.3 461.8 300.7 459.9 302.8 459.0 C304.9 458.1 305.9 458.3 308.0 457.5 C310.1 456.7 313.5 455.3 315.6 454.4 C317.7 453.5 318.7 453.3 320.8 452.0 C322.9 450.7 326.3 448.1 328.4 446.7 C330.5 445.3 331.5 445.0 333.6 443.5 C335.7 442.0 337.8 440.9 341.2 437.8 C344.6 434.7 349.7 429.3 354.0 425.0 C358.3 420.7 362.5 416.1 366.8 412.0 C371.1 407.9 376.0 403.6 379.6 400.6 C383.2 397.6 385.6 395.9 388.6 394.0 C391.6 392.1 393.9 390.9 397.5 389.0 C401.1 387.1 406.1 384.4 410.3 382.7 C414.6 381.0 419.7 380.1 423.0 379.0 C426.3 377.9 427.8 376.9 430.0 376.0 C432.2 375.1 433.9 374.7 436.0 373.4 C438.1 372.1 440.5 369.9 442.8 368.0 C445.1 366.1 447.9 363.8 450.0 362.0 C452.1 360.2 452.5 359.2 455.6 357.0 C458.7 354.8 464.1 351.6 468.4 349.0 C472.7 346.4 476.9 344.3 481.2 341.4 C485.5 338.5 489.7 335.1 494.0 331.5 C498.3 327.9 502.5 323.5 506.8 319.6 C511.1 315.7 515.3 311.3 519.6 308.0 C523.9 304.7 528.1 302.1 532.4 300.0 C536.7 297.9 540.9 296.5 545.2 295.6 C549.5 294.7 553.7 294.7 558.0 294.6 C562.3 294.5 567.1 294.8 570.8 295.2 C574.5 295.6 577.9 296.7 580.0 297.3 C582.1 297.9 581.5 297.9 583.6 298.8 C585.7 299.7 589.1 301.1 592.8 302.6 C596.5 304.1 601.3 306.0 605.6 307.8 C609.9 309.6 614.1 311.3 618.4 313.3 C622.7 315.3 628.2 318.3 631.2 319.7 C634.2 321.1 632.9 320.9 636.3 321.5 C639.7 322.1 646.6 322.3 651.7 323.0 C656.8 323.7 661.9 324.7 667.0 325.6 C672.1 326.5 677.7 327.2 682.4 328.6 C687.1 330.0 690.9 331.9 695.2 333.8 C699.5 335.7 703.7 337.9 708.0 340.0 C712.3 342.1 717.8 344.9 720.8 346.6 C723.8 348.3 723.7 348.8 725.8 350.0 C727.9 351.2 731.2 352.7 733.6 354.0 C736.0 355.3 737.7 356.1 740.0 358.0 C742.3 359.9 744.5 362.7 747.5 365.4 C750.5 368.1 754.4 371.5 757.8 374.3 C761.2 377.1 764.6 379.4 768.0 382.0 C771.4 384.6 774.8 387.4 778.2 389.7 C781.6 392.0 786.1 394.5 788.5 396.0 C790.9 397.5 790.9 397.5 792.8 398.6 C794.7 399.7 797.9 401.4 800.0 402.5 C802.1 403.6 802.5 403.8 805.6 405.0 C808.7 406.2 814.1 408.5 818.4 410.0 C822.7 411.5 826.9 412.7 831.2 414.0 C835.5 415.3 839.7 416.5 844.0 417.8 C848.3 419.1 852.5 420.6 856.8 421.6 C861.1 422.6 866.4 423.4 869.6 424.0 C872.8 424.6 873.9 425.3 876.0 425.4 C878.1 425.5 879.2 424.9 882.4 424.7 C885.6 424.5 890.9 424.2 895.2 424.0 C899.5 423.8 904.0 423.9 908.0 423.4 C912.0 422.9 917.6 421.2 919.5 420.8" fill="none" stroke="#3b51c4" stroke-width="1.75" stroke-linejoin="round" stroke-linecap="round"/>
<g font-family="Liberation Sans, sans-serif" font-size="10.5" fill="#8a8a8a" text-anchor="end">
<text x="43.5" y="82.7">$60k</text>
<text x="43.5" y="265.7">$20k</text>
<text x="43.5" y="417.7">$8k</text>
<text x="43.5" y="532.7">$4k</text>
</g>
<g font-family="Liberation Sans, sans-serif" font-size="10.2" fill="#8a8a8a" text-anchor="start">
<text x="933.7" y="159.89999999999998">72M</text>
<text x="933.7" y="284.2">48M</text>
<text x="933.7" y="408.2">24M</text>
<text x="933.7" y="532.9000000000001">0</text>
</g>
<g font-family="Liberation Sans, sans-serif" font-size="11.2" fill="#777777" text-anchor="middle">
<text x="131" y="552">May '20</text>
<text x="215" y="552">Sep '20</text>
<text x="296.5" y="552">Jan '21</text>
<text x="377.5" y="552">May '21</text>
<text x="462.5" y="552">Sep '21</text>
<text x="544" y="552">Jan '22</text>
<text x="626" y="552">May '22</text>
<text x="709" y="552">Sep '22</text>
<text x="791.5" y="552">Jan '23</text>
<text x="873.5" y="552">May '23</text>
</g>
<g font-family="Liberation Sans, sans-serif" font-size="10.6" fill="#3a3a3a" stroke="#3a3a3a" stroke-width="0.55" paint-order="stroke">
<circle cx="23.5" cy="17.8" r="3.8" fill="#444" stroke="none"/>
<text id="lg1" x="31.7" y="21.9" textLength="85.1" lengthAdjust="spacingAndGlyphs">BTC: Price [USD]</text>
<circle cx="140.3" cy="17.8" r="3.8" fill="#ff8c00" stroke="none"/>
<text id="lg2" x="148.4" y="21.9" textLength="232.6" lengthAdjust="spacingAndGlyphs">BTC: Miner Revenue (Total) - All Miners [USD]</text>
<circle cx="404.5" cy="17.8" r="3.8" fill="#3f58d0" stroke="none"/>
<text id="lg3" x="412.7" y="21.9" textLength="56.2" lengthAdjust="spacingAndGlyphs">365D-SMA</text>
<circle cx="491.6" cy="17.8" r="3.8" fill="#c400ff" stroke="none"/>
<text id="lg4" x="499.8" y="21.9" fill="#cfcfcf" stroke="#cfcfcf" textLength="235.6" lengthAdjust="spacingAndGlyphs">Rolling 365-day Sum of Mining Revenue [USD]</text>
</g>
<rect x="864.3" y="3.7" width="66.6" height="22.3" rx="2" fill="#f6f7f9"/>
<text id="rz" font-family="Liberation Sans, sans-serif" font-size="10.4" fill="#555" x="870.5" y="19.3" textLength="53.7" lengthAdjust="spacingAndGlyphs">Reset zoom</text>
<g id="cam"><path d="M950.4 8 L957.4 8 L958.6 10 L960.2 10 Q961.6 10 961.6 11.4 L961.6 19.8 Q961.6 21.2 960.2 21.2 L947.5 21.2 Q946.1 21.2 946.1 19.8 L946.1 11.4 Q946.1 10 947.5 10 L949.2 10 Z" fill="#141416"/><circle cx="953.8" cy="15.4" r="3.05" fill="#fff"/><circle cx="953.8" cy="15.4" r="1.35" fill="#141416"/></g>
<rect x="191.8" y="47.3" width="337.7" height="63.6" rx="1.2" fill="#f8f8f8" fill-opacity="0.9" stroke="#454545" stroke-width="1.4"/>
<g font-family="Liberation Sans, sans-serif" fill="#444">
<text id="tt0" x="198.2" y="63.6" font-size="9.3" fill="#666">Wednesday, Jul 08 2020 UTC</text>
<circle cx="202.8" cy="72.4" r="3.6" fill="#444"/>
<text id="tt1" x="210.8" y="76.2" font-size="11.2" textLength="143.4" lengthAdjust="spacingAndGlyphs">BTC: Price [USD]: <tspan font-weight="bold" fill="#333">$9,425.37</tspan></text>
<circle cx="202.8" cy="84.6" r="3.6" fill="#ff8c00"/>
<text id="tt2" x="210.8" y="88.4" font-size="11.2" textLength="310.7" lengthAdjust="spacingAndGlyphs">BTC: Miner Revenue (Total) - All Miners [USD]: <tspan font-weight="bold" fill="#333">$9,260,942.74</tspan></text>
<circle cx="202.8" cy="96.8" r="3.6" fill="#3f58d0"/>
<text id="tt3" x="210.8" y="100.6" font-size="11.2" textLength="170.2" lengthAdjust="spacingAndGlyphs">365D-SMA: <tspan font-weight="bold" fill="#333">15,163,965.28611957</tspan></text>
</g>
<text id="cap" font-family="Liberation Sans, sans-serif" font-size="20.8" fill="#111" stroke="#111" stroke-width="0.35" x="6.6" y="587.8" textLength="401.4" lengthAdjust="spacingAndGlyphs">Bitcoin Miner Revenue. Source: Glassnode</text>
</svg>
</body></html>
